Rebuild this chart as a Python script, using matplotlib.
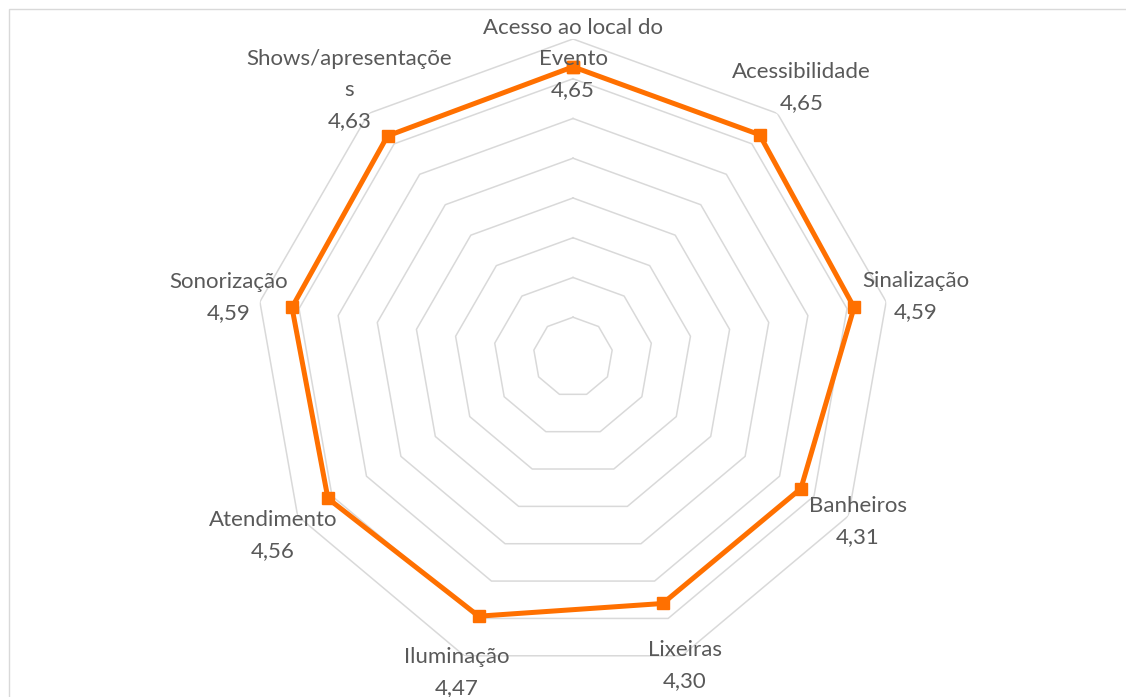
import numpy as np
import matplotlib
matplotlib.use("Agg")
from matplotlib import pyplot as plt
from matplotlib.patches import Rectangle

# categories as they appear clockwise from the top
categorias = ["Acesso ao local do\nEvento", "Acessibilidade", "Sinalização",
              "Banheiros", "Lixeiras", "Iluminação", "Atendimento",
              "Sonorização", "Shows/apresentaçõe\ns"]
notas = [4.65, 4.65, 4.59, 4.31, 4.30, 4.47, 4.56, 4.59, 4.63]
aneis = [1.5, 2.0, 2.5, 3.0, 3.5, 4.0, 4.5, 5.0]

# label offsets (pixels) from each point, like excel's "best fit"
offsets = [(0, 8), (42, 47), (62, 11), (57, -33), (22, -62),
           (-22, -56), (-55, -37), (-63, 10), (-38, 46)]

plt.rcParams['font.family'] = ['Lato', 'DejaVu Sans']

n = len(categorias)
ang = [2 * np.pi * i / n for i in range(n)]

fig = plt.figure(figsize=(11.26, 6.97), dpi=100)
fig.add_artist(Rectangle((9 / 1126, -0.05), 1.2, 1.05 - 9 / 697,
                         transform=fig.transFigure, fill=False,
                         edgecolor='#D9D9D9', lw=1.0))

ax = fig.add_axes([0.2265, 0.0316, 0.5648, 0.9125], projection='polar')
ax.set_theta_zero_location('N')
ax.set_theta_direction(-1)
ax.set_ylim(1, 5)
ax.grid(False)
ax.spines['polar'].set_visible(False)
ax.set_xticks([])
ax.set_yticks([])
ax.patch.set_alpha(0)

# polygon rings
angc = ang + [ang[0]]
for r in aneis:
    ax.plot(angc, [r] * (n + 1), color='#D9D9D9', lw=1.1, zorder=1)

ax.plot(angc, notas + [notas[0]], color='#FF7000', lw=3.6,
        marker='s', markersize=8, zorder=3, clip_on=False)

for i in range(n):
    txt = categorias[i] + "\n" + f"{notas[i]:.2f}".replace('.', ',')
    ax.annotate(txt, (ang[i], notas[i]), xytext=offsets[i],
                textcoords='offset pixels', ha='center', va='center',
                fontsize=16, color='#595959', linespacing=1.7,
                annotation_clip=False, zorder=4)

plt.savefig('out.png', dpi=100)
